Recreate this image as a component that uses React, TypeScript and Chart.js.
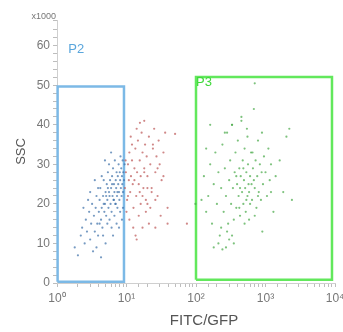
import React, { useEffect, useRef } from "react";
import { Chart, registerables } from "chart.js";

Chart.register(...registerables);

// ---- data ----
const xTickLabels = ["10⁰", "10¹", "10²", "10³", "10⁴"];
const yMajorTicks = [0, 10, 20, 30, 40, 50, 60];
const yUnitLabel = "x1000";
const xTitle = "FITC/GFP";
const yTitle = "SSC";

const blueX = [1.8,2.0,2.2,2.3,2.5,2.6,2.7,2.9,3.0,3.1,3.2,3.3,3.4,3.5,3.6,3.7,3.8,3.9,4.0,4.1,4.2,4.3,4.4,4.5,4.6,4.7,4.8,4.9,5.0,5.1,5.2,5.3,5.4,5.5,5.6,5.7,5.8,5.9,6.0,6.1,6.2,6.3,6.4,6.5,6.6,6.7,6.8,6.9,7.0,7.1,7.2,7.3,7.4,7.5,7.6,7.7,7.8,7.9,8.0,8.1,8.2,8.3,8.4,8.5,8.6,8.7,8.8,8.9,9.0,9.2,9.4,5.3,4.6,6.1,3.9,4.4,5.6,6.7,7.2,8.1,2.8,3.5,4.9,6.0,5.0,3.7,4.3,6.4,7.8,8.6,2.4,3.0,5.7,4.1,7.0,8.9,5.4,6.6,7.4,6.2,5.1,4.7];
const blueY = [9,7,12,14,10,16,13,18,11,15,20,8,17,13,19,22,15,12,18,21,24,16,19,14,22,26,18,20,23,17,25,21,28,19,23,22,26,20,24,18,27,22,29,21,25,23,31,20,26,24,28,22,19,27,25,30,23,21,28,26,32,24,29,22,27,25,31,23,28,26,30,15,12,14,24,27,30,17,15,18,21,26,31,33,10,9,6.5,12,14,16,19,23,16,15,20,19,24,21,23,25,22,20];

const redX = [9.5,9.8,10.2,10.5,10.8,11,11.3,11.6,12,12.3,12.6,13,13.4,13.8,14.2,14.6,15,15.5,16,16.5,17,17.5,18,18.5,19,19.5,20,21,22,23,24,25,26,27,28,29,30,32,34,36,28,39,24,39,18,26,34,17,74,10,11,12.5,13.5,15,16,17,19,21,12,14,11.5,18,20,13,15.5,10.5,9.7,22,26,31,20,23,14,15.6,50];
const redY = [24,28,21,30,26,33,23,27,31,25,19,29,34,22,28,36,25,31,27,38,33,24,29,35,21,32,27,37,30,24,34,39,28,32,22,36,30,26,33,38,29,19,35,15,28,14,27,22,15,18,16,14,12,17,20,14,18,15,35,39,37,41,24,26,23,22,31,19,21,17,20,23,11,40.5,37.7];

const greenX = [130,140,150,160,170,180,190,200,210,220,230,240,250,260,270,280,290,300,310,320,330,340,350,360,370,380,390,400,410,420,430,440,450,460,470,480,490,500,510,520,530,540,550,560,570,580,600,620,640,660,680,700,720,740,760,780,800,830,860,890,920,950,1000,1050,1100,1150,1200,1300,1400,1600,1800,2000,2200,2400,180,210,240,270,300,330,230,280,350,420,500,600,700,900,260,330,450,550,650,380,480,580,680,780,880,430,530,630,1200,700,160,140,120,98];
const greenY = [27,18,22,30,15,25,33,20,28,12,24,35,18,29,22,38,15,26,31,20,40,24,10,28,33,19,25,36,22,29,17,27,42,23,31,20,26,34,24,18,28,39,22,30,25,16,27,33,21,29,44,24,31,19,27,36,23,30,21,38,25,32,28,22,34,26,30,18,27,31,23,37,39,21,9,10,8.5,9,11,12,14,13,16,19,15,20,17,13,38,40,41,37,33,27,29,23,26,22,28,24,21,25,23,50.5,40,34,21,20];

// gates (closed polygons)
const gateP2X = [1.02, 1.02, 9.2, 9.2, 1.02];
const gateP2Y = [0.3, 49.7, 49.7, 0.3, 0.3];
const gateP3X = [100, 100, 9050, 9050, 100];
const gateP3Y = [0.8, 52.1, 52.1, 0.8, 0.8];
const gateNames = ["P2", "P3"];
const gateNameX = [1.45, 100];
const gateNameY = [59, 50.6];

const zip = (xs: number[], ys: number[]) => xs.map((x, i) => ({ x, y: ys[i] }));

const BLUE_GATE = "#7cb9e6";
const GREEN_GATE = "#62e85c";
const LABEL_COLORS = ["#5aa6dc", "#3fd83a"];
const FONT = "'Liberation Sans', Arial, sans-serif";

export default function App() {
  const ref = useRef<HTMLCanvasElement | null>(null);

  useEffect(() => {
    if (!ref.current) return;

    const labelPlugin = {
      id: "gateLabels",
      afterDatasetsDraw(chart: any) {
        const { ctx, scales, chartArea } = chart;
        ctx.save();
        ctx.font = `13px ${FONT}`;
        ctx.textAlign = "left";
        ctx.textBaseline = "middle";
        gateNames.forEach((n, i) => {
          ctx.fillStyle = LABEL_COLORS[i];
          ctx.fillText(n, scales.x.getPixelForValue(gateNameX[i]), scales.y.getPixelForValue(gateNameY[i]));
        });
        ctx.font = `9px ${FONT}`;
        ctx.fillStyle = "#777";
        ctx.textAlign = "right";
        ctx.fillText(yUnitLabel, chartArea.left - 1, chartArea.top - 3);
        // x axis title
        ctx.font = `15px ${FONT}`;
        ctx.fillStyle = "#555";
        ctx.textAlign = "center";
        ctx.fillText(xTitle, (chartArea.left + chartArea.right) / 2 + 8, chartArea.bottom + 38);
        ctx.restore();
      },
    };

    const pt = { pointRadius: 1.1, pointBorderWidth: 0, showLine: false };
    const gate = { showLine: true, pointRadius: 0, borderWidth: 2.5, fill: false, clip: false as any, tension: 0 };

    const chart = new Chart(ref.current, {
      type: "scatter",
      data: {
        datasets: [
          { data: zip(blueX, blueY), backgroundColor: "rgba(65,115,170,0.72)", ...pt },
          { data: zip(redX, redY), backgroundColor: "rgba(190,90,90,0.72)", ...pt },
          { data: zip(greenX, greenY), backgroundColor: "rgba(75,170,75,0.72)", ...pt },
          { data: zip(gateP2X, gateP2Y), borderColor: BLUE_GATE, ...gate },
          { data: zip(gateP3X, gateP3Y), borderColor: GREEN_GATE, ...gate },
        ] as any,
      },
      options: {
        animation: false,
        responsive: false,
        devicePixelRatio: 1,
        layout: { padding: { top: 20, right: 8, left: 0, bottom: 0 } },
        plugins: { legend: { display: false }, tooltip: { enabled: false } },
        scales: {
          x: {
            type: "logarithmic",
            min: 1,
            max: 10000,
            afterFit: (s: any) => { s.height = 49; s.paddingLeft = 0; s.paddingRight = 0; },
            border: { color: "#cfcfcf", width: 1 },
            grid: { drawOnChartArea: false, tickLength: 4, color: "#bdbdbd" },
            ticks: {
              autoSkip: false,
              maxRotation: 0,
              padding: 4,
              color: "#777",
              font: { size: 12, family: FONT },
              callback: (v: any) => {
                const l = Math.log10(Number(v));
                return Math.abs(l - Math.round(l)) < 1e-9 ? xTickLabels[Math.round(l)] : "";
              },
            },
          },
          y: {
            min: 0,
            max: 66.5,
            afterFit: (s: any) => { s.width = 57; s.paddingTop = 0; s.paddingBottom = 0; },
            border: { color: "#cfcfcf", width: 1 },
            grid: { drawOnChartArea: false, tickLength: 4, color: "#bdbdbd" },
            ticks: {
              stepSize: 2,
              autoSkip: false,
              padding: 3,
              color: "#777",
              font: { size: 12, family: FONT },
              callback: (v: any) => (yMajorTicks.includes(Number(v)) ? String(v) : ""),
            },
            title: {
              display: true,
              text: yTitle,
              color: "#555",
              font: { size: 13, family: FONT },
              padding: { top: 14, bottom: 0 },
            },
          },
        },
      } as any,
      plugins: [labelPlugin],
    });
    return () => chart.destroy();
  }, []);

  return (
    <div style={{ position: "absolute", left: 0, top: 0, width: 343, height: 332, background: "#fff" }}>
      <canvas ref={ref} width={343} height={332} style={{ width: 343, height: 332 }} />
    </div>
  );
}
